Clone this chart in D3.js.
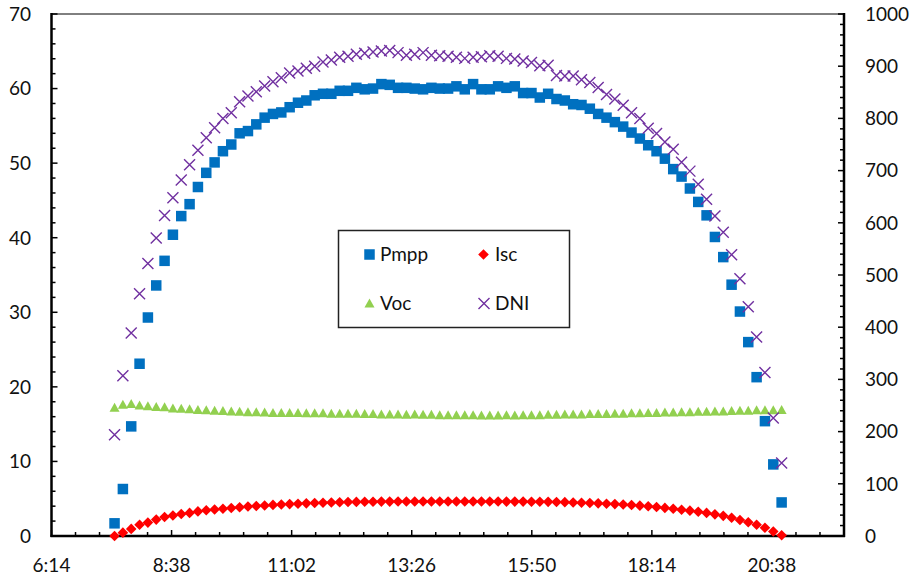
<!DOCTYPE html>
<html>
<head>
<meta charset="utf-8">
<script src="https://cdn.jsdelivr.net/npm/d3@7/dist/d3.min.js"></script>
<style>
  html, body { margin: 0; padding: 0; background: #fff; }
  svg { display: block; }
  text { font-family: Lato, "Open Sans", sans-serif; fill: #111; }
</style>
</head>
<body>
<svg id="chart" width="914" height="578"></svg>
<script>
// ---------- data ----------
const times = ["7:30","7:40","7:50","8:00","8:10","8:20","8:30","8:40","8:50",
  "9:00","9:10","9:20","9:30","9:40","9:50","10:00","10:10","10:20","10:30","10:40","10:50",
  "11:00","11:10","11:20","11:30","11:40","11:50","12:00","12:10","12:20","12:30","12:40","12:50",
  "13:00","13:10","13:20","13:30","13:40","13:50","14:00","14:10","14:20","14:30","14:40","14:50",
  "15:00","15:10","15:20","15:30","15:40","15:50","16:00","16:10","16:20","16:30","16:40","16:50",
  "17:00","17:10","17:20","17:30","17:40","17:50","18:00","18:10","18:20","18:30","18:40","18:50",
  "19:00","19:10","19:20","19:30","19:40","19:50","20:00","20:10","20:20","20:30","20:40","20:50"];

const pmpp = [1.7,6.3,14.7,23.1,29.3,33.6,36.9,40.4,42.9,44.5,46.8,48.7,50.1,51.6,52.5,54.0,54.3,55.2,56.1,56.6,
  56.8,57.5,58.1,58.4,59.1,59.3,59.3,59.7,59.7,60.1,59.9,60.0,60.6,60.5,60.1,60.1,60.0,59.9,60.1,60.0,
  60.0,60.3,59.9,60.6,59.9,59.9,60.3,60.1,60.3,59.4,59.4,58.8,59.3,58.6,58.4,57.9,57.8,57.3,56.6,56.1,
  55.5,54.9,54.1,53.3,52.4,51.6,50.6,49.2,48.2,46.6,44.8,43.0,40.1,37.4,33.7,30.1,26.0,21.3,15.4,9.6,4.5];

const isc = [0,0.45,0.95,1.5,1.8,2.2,2.55,2.75,2.95,3.1,3.3,3.45,3.55,3.65,3.75,3.85,3.95,4.03,4.1,4.17,
  4.22,4.28,4.33,4.38,4.42,4.46,4.5,4.52,4.55,4.57,4.59,4.6,4.61,4.61,4.62,4.62,4.62,4.62,4.62,4.62,
  4.62,4.62,4.62,4.62,4.62,4.62,4.62,4.61,4.61,4.61,4.6,4.6,4.58,4.56,4.54,4.5,4.46,4.42,4.38,4.33,
  4.28,4.22,4.15,4.07,3.98,3.88,3.77,3.65,3.52,3.4,3.25,3.1,2.9,2.7,2.45,2.15,1.85,1.5,1.1,0.6,0.1];

const voc = [17.2,17.6,17.7,17.5,17.4,17.3,17.25,17.1,17.05,17.0,16.9,16.85,16.8,16.75,16.7,16.65,16.6,16.6,16.55,16.5,
  16.5,16.5,16.5,16.45,16.45,16.45,16.4,16.4,16.4,16.4,16.35,16.35,16.3,16.3,16.3,16.25,16.3,16.25,16.25,16.2,
  16.2,16.2,16.2,16.2,16.15,16.15,16.15,16.2,16.15,16.2,16.2,16.2,16.25,16.25,16.3,16.3,16.3,16.35,16.35,16.35,
  16.4,16.4,16.45,16.45,16.5,16.5,16.55,16.55,16.6,16.6,16.65,16.65,16.7,16.7,16.75,16.8,16.8,16.85,16.85,16.85,16.9];

const dni = [194,307,389,464,522,571,614,648,682,711,739,763,782,800,811,832,843,851,862,870,
  878,887,891,896,900,908,912,917,919,923,925,927,929,930,926,921,923,926,921,920,
  919,917,915,917,918,920,919,915,914,910,907,901,902,882,881,881,874,869,859,846,
  837,825,811,800,781,771,755,741,716,699,674,645,613,582,539,493,439,381,313,226,140];

const xTickLabels = ["6:14","8:38","11:02","13:26","15:50","18:14","20:38"];
const leftTicks = [0,10,20,30,40,50,60,70];
const rightTicks = [0,100,200,300,400,500,600,700,800,900,1000];
const seriesNames = ["Pmpp","Isc","Voc","DNI"];

// ---------- helpers ----------
const toDay = s => { const [h, m] = s.split(":").map(Number); return (h * 60 + m) / 1440; };

const svg = d3.select("#chart");
const L = 51.5, R = 844, T = 14, B = 536;

const x = d3.scaleLinear().domain([toDay(xTickLabels[0]) + 0.4 / 1440, 0.92]).range([L, R]);
const yL = d3.scaleLinear().domain([0, 70]).range([B, T]);
const yR = d3.scaleLinear().domain([0, 1000]).range([B, T]);

const xTickVals = xTickLabels.map(s => toDay(s) + 0.4 / 1440);
const xMinor = d3.range(0, 34).map(i => x.domain()[0] + i * 0.02).filter(v => v <= 0.9201);

// top border
svg.append("line").attr("x1", L).attr("x2", R).attr("y1", T).attr("y2", T)
  .attr("stroke", "#000").attr("stroke-width", 1);

// ticks (inside)
const g = svg.append("g");
d3.range(0, 71, 2).forEach(v => {
  const len = v % 10 === 0 ? 6 : 4;
  g.append("line").attr("x1", L).attr("x2", L + len).attr("y1", yL(v)).attr("y2", yL(v))
    .attr("stroke", "#000").attr("stroke-width", 1.5);
});
d3.range(0, 1001, 20).forEach(v => {
  const len = v % 100 === 0 ? 6 : 4;
  g.append("line").attr("x1", R).attr("x2", R - len).attr("y1", yR(v)).attr("y2", yR(v))
    .attr("stroke", "#000").attr("stroke-width", 1.5);
});
xMinor.forEach((v, i) => {
  const len = i % 5 === 0 ? 6 : 4;
  g.append("line").attr("x1", x(v)).attr("x2", x(v)).attr("y1", B).attr("y2", B - len)
    .attr("stroke", "#000").attr("stroke-width", 1.5);
});

// axis lines
svg.append("line").attr("x1", L).attr("x2", L).attr("y1", T - 1).attr("y2", B + 1)
  .attr("stroke", "#000").attr("stroke-width", 2.5);
svg.append("line").attr("x1", R).attr("x2", R).attr("y1", T - 1).attr("y2", B + 1)
  .attr("stroke", "#000").attr("stroke-width", 2.5);
svg.append("line").attr("x1", L - 1).attr("x2", R + 1).attr("y1", B).attr("y2", B)
  .attr("stroke", "#000").attr("stroke-width", 2.5);

// tick labels
const fs = 19;
svg.append("g").selectAll("text").data(leftTicks).join("text")
  .attr("x", 31).attr("y", d => yL(d)).attr("dy", "0.36em")
  .attr("text-anchor", "end").style("font-size", fs + "px").text(d => d);
svg.append("g").selectAll("text").data(rightTicks).join("text")
  .attr("x", 865).attr("y", d => yR(d)).attr("dy", "0.36em")
  .attr("text-anchor", "start").style("font-size", fs + "px").text(d => d);
svg.append("g").selectAll("text").data(xTickLabels).join("text")
  .attr("x", (d, i) => x(xTickVals[i])).attr("y", 565).attr("dy", "0.36em")
  .attr("text-anchor", "middle").style("font-size", fs + "px").text(d => d);

// ---------- markers ----------
const colors = { Pmpp: "#0070C0", Isc: "#FF0000", Voc: "#92D050", DNI: "#7030A0" };
function drawMarker(sel, name, cx, cy) {
  if (name === "Pmpp") {
    sel.append("rect").attr("x", cx - 5.25).attr("y", cy - 5.25).attr("width", 10.5).attr("height", 10.5)
      .attr("fill", colors.Pmpp);
  } else if (name === "Isc") {
    sel.append("path").attr("d", `M${cx},${cy - 5.3}L${cx + 5.3},${cy}L${cx},${cy + 5.3}L${cx - 5.3},${cy}Z`)
      .attr("fill", colors.Isc);
  } else if (name === "Voc") {
    sel.append("path").attr("d", `M${cx},${cy - 5}L${cx + 5},${cy + 4}L${cx - 5},${cy + 4}Z`)
      .attr("fill", colors.Voc);
  } else {
    sel.append("path").attr("d", `M${cx - 5.5},${cy - 5.5}L${cx + 5.5},${cy + 5.5}M${cx + 5.5},${cy - 5.5}L${cx - 5.5},${cy + 5.5}`)
      .attr("stroke", colors.DNI).attr("stroke-width", 1.4).attr("fill", "none");
  }
}

const plot = svg.append("g");
const gV = plot.append("g"), gI = plot.append("g"), gD = plot.append("g"), gP = plot.append("g");
times.forEach((t, i) => {
  const cx = x(toDay(t));
  drawMarker(gV, "Voc", cx, yL(voc[i]));
  drawMarker(gI, "Isc", cx, yL(isc[i]));
  drawMarker(gP, "Pmpp", cx, yL(pmpp[i]));
  drawMarker(gD, "DNI", cx, yR(dni[i]));
});
plot.node().appendChild(gD.node());

// ---------- legend ----------
const lg = svg.append("g");
lg.append("rect").attr("x", 338.5).attr("y", 230.5).attr("width", 231).attr("height", 97)
  .attr("fill", "#fff").attr("stroke", "#222").attr("stroke-width", 1.5);
const legPos = [
  { mx: 369.5, tx: 380, y: 254.5 },
  { mx: 483.5, tx: 495, y: 254.5 },
  { mx: 369.5, tx: 380, y: 303.5 },
  { mx: 484, tx: 495, y: 303.5 }
];
seriesNames.forEach((n, i) => {
  const p = legPos[i];
  drawMarker(lg, n, p.mx, p.y);
  lg.append("text").attr("x", p.tx).attr("y", p.y).attr("dy", "0.36em")
    .style("font-size", fs + "px").text(n);
});
</script>
</body>
</html>
